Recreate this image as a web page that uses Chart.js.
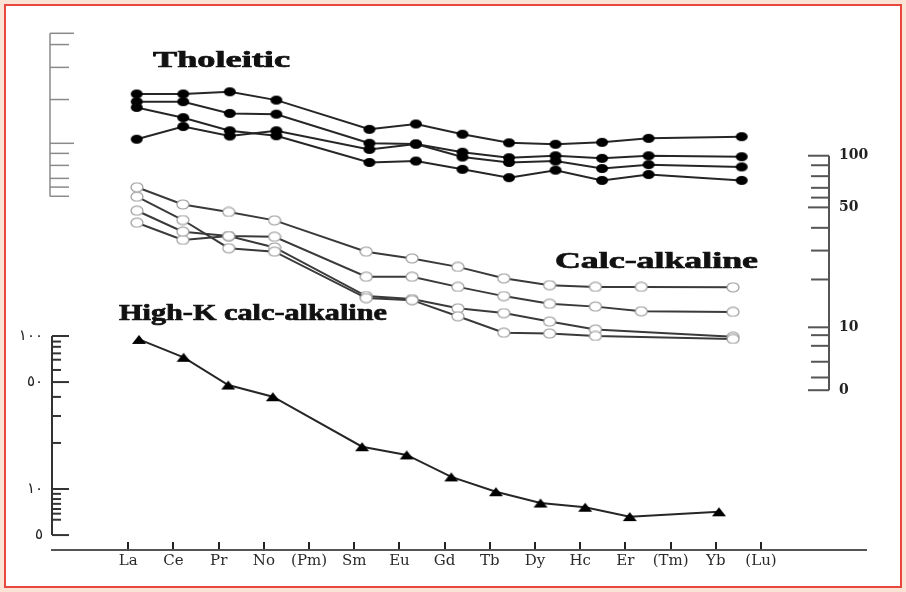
<!DOCTYPE html>
<html lang="es">
<head>
<meta charset="utf-8">
<title>Diagrama de tierras raras</title>
<script src="https://cdn.jsdelivr.net/npm/chart.js@4.4.1/dist/chart.umd.min.js"></script>
<style>
  html, body { margin: 0; padding: 0; }
  body { width: 906px; height: 592px; background: #fbe4d6; position: relative; overflow: hidden; }
  .marco { position: absolute; left: 4px; top: 4px; width: 898px; height: 584px; box-sizing: border-box; border: 2px solid #e8473f; background: #fff; }
  .grafico { position: absolute; left: 0; top: 0; width: 906px; height: 592px; }
</style>
</head>
<body>
<div class="marco"></div>
<div class="grafico"><canvas id="reeChart"></canvas></div>
<script>
const elementos = ['La', 'Ce', 'Pr', 'No', '(Pm)', 'Sm', 'Eu', 'Gd', 'Tb', 'Dy', 'Hc', 'Er', '(Tm)', 'Yb', '(Lu)'];

// Tholeitic - eje superior izquierdo
const thol1 = [28.1, 28.1, 29.4, 24.7, null, 13.4, 15.0, 12.1, 10.1, 9.8, 10.2, 11.1, null, 11.5, null];
const thol2 = [23.9, 23.9, 18.7, 18.4, null, 10.0, 9.85, 8.3, 7.4, 7.7, 7.3, 7.7, null, 7.55, null];
const thol3 = [21.2, 17.1, 13.0, 11.7, null, 6.7, 6.9, 5.8, 4.87, 5.7, 4.6, 5.2, null, 4.6, null];
const thol4 = [10.9, 14.2, 11.65, 13.0, null, 8.8, 9.85, 7.5, 6.7, 6.9, 5.9, 6.4, null, 6.1, null];

// Calc-alkaline - eje derecho
const calc1 = [65.5, 52, 47, 42, null, 27.6, 25.2, 22.5, 19.3, 17.6, 17.2, 17.2, null, 17.1, null];
const calc2 = [57.7, 42.2, 28.9, 27.6, null, 14.8, 14.4, 11.6, 9.3, 9.2, 8.9, null, null, 8.55, null];
const calc3 = [47.8, 36.1, 34, 33.7, null, 19.7, 19.7, 17.2, 15.2, 13.7, 13.2, 12.4, null, 12.3, null];
const calc4 = [40.7, 32.3, 34, 29.2, null, 15.2, 14.6, 12.9, 12.1, 10.8, 9.7, null, null, 8.8, null];

// High-K calc-alkaline - eje inferior izquierdo
const highK = [95, 72.6, 47.8, 40.1, null, 18.9, 16.7, 12.0, 9.6, 8.1, 7.6, 6.6, null, 7.1, null];

// marcas de los ejes logaritmicos
const ticksThol = [100, 79, 49, 25, 10, 8.1, 6.3, 4.8, 4.0, 3.3];
const ticksHighK = [100, 92, 85, 77, 70, 60, 50, 40, 30, 20, 10, 9.3, 8.6, 8, 7.4, 6.9, 6.3, 5];
const etiquetasHighK = ['١٠٠', '', '', '', '', '', '٥٠', '', '', '', '١٠', '', '', '', '', '', '', '٥'];
const ticksCalc = [100, 88, 76, 65, 57, 50, 38, 28, 19, 10, 9, 7.8, 6.3, 5.1, 4.3];
const etiquetasCalc = ['100', '', '', '', '', '50', '', '', '', '10', '', '', '', '', '0'];

const grupos = ['Tholeitic', 'Calc-alkaline', 'High-K calc-alkaline'];

function marca(ancho, alto, relleno, borde, triangulo) {
    const c = document.createElement('canvas');
    c.width = ancho + 2;
    c.height = alto + 2;
    const g = c.getContext('2d');
    g.beginPath();
    if (triangulo) {
        g.moveTo(c.width / 2, 1);
        g.lineTo(c.width - 1, c.height - 1);
        g.lineTo(1, c.height - 1);
        g.closePath();
    } else {
        g.ellipse(c.width / 2, c.height / 2, ancho / 2, alto / 2, 0, 0, Math.PI * 2);
    }
    g.fillStyle = relleno;
    g.fill();
    if (borde) {
        g.strokeStyle = borde;
        g.lineWidth = 1.2;
        g.stroke();
    }
    return c;
}

const puntoLleno = marca(12, 9, '#000');
const puntoVacio = marca(12, 9, '#fff', '#9a9a9a');
const puntoTriangulo = marca(14, 9, '#000', null, true);

function serie(valores, ejeX, ejeY, punto, color) {
    return {
        data: valores.map((v, i) => ({ x: i, y: v })).filter(p => p.y !== null),
        xAxisID: ejeX,
        yAxisID: ejeY,
        borderColor: color,
        borderWidth: 2,
        pointStyle: punto,
        pointRadius: 6,
        fill: false,
        tension: 0
    };
}

const ejesLog = {
    id: 'ejesLog',
    afterDatasetsDraw(chart) {
        const { ctx, scales } = chart;
        const ejes = [
            { escala: scales.yT, x: 50, valores: ticksThol, etiquetas: null, dir: 1, largo: [24, 19], color: '#8a8a8a', ancho: 1.5 },
            { escala: scales.yK, x: 52, valores: ticksHighK, etiquetas: etiquetasHighK, dir: 1, largo: [17, 9], color: '#333', ancho: 2,
              fuente: '15px "DejaVu Sans"', alinea: 'right', dx: -9 },
            { escala: scales.yC, x: 829, valores: ticksCalc, etiquetas: etiquetasCalc, dir: -1, largo: [21, 18], color: '#555', ancho: 2,
              fuente: 'bold 14px "DejaVu Serif"', alinea: 'left', dx: 10 }
        ];
        ctx.save();
        ejes.forEach(e => {
            const ys = e.valores.map(v => e.escala.getPixelForValue(v));
            ctx.strokeStyle = e.color;
            ctx.lineWidth = e.ancho;
            ctx.beginPath();
            ctx.moveTo(e.x, Math.min(...ys));
            ctx.lineTo(e.x, Math.max(...ys));
            ctx.stroke();
            e.valores.forEach((v, i) => {
                const mayor = (e.etiquetas && e.etiquetas[i] !== '') || Number.isInteger(Math.log10(v));
                const l = mayor ? e.largo[0] : e.largo[1];
                ctx.beginPath();
                ctx.moveTo(e.x, ys[i]);
                ctx.lineTo(e.x + e.dir * l, ys[i]);
                ctx.stroke();
                if (e.etiquetas && e.etiquetas[i]) {
                    ctx.fillStyle = '#222';
                    ctx.font = e.fuente;
                    ctx.textAlign = e.alinea;
                    ctx.textBaseline = 'middle';
                    ctx.fillText(e.etiquetas[i], e.x + e.dx, ys[i]);
                }
            });
        });
        ctx.restore();
    }
};

const titulosGrupos = {
    id: 'titulosGrupos',
    afterDraw(chart) {
        const ctx = chart.ctx;
        const sitios = [
            { x: 153, y: 67, w: 137 },
            { x: 555, y: 268, w: 203 },
            { x: 119, y: 320, w: 268 }
        ];
        ctx.save();
        ctx.fillStyle = '#111';
        ctx.strokeStyle = '#111';
        ctx.lineWidth = 0.7;
        ctx.font = 'bold 23px "Liberation Serif"';
        ctx.textBaseline = 'alphabetic';
        ctx.textAlign = 'left';
        grupos.forEach((t, i) => {
            const s = sitios[i];
            const escalaX = s.w / ctx.measureText(t).width;
            ctx.save();
            ctx.translate(s.x, s.y);
            ctx.scale(escalaX, 1);
            ctx.fillText(t, 0, 0);
            ctx.strokeText(t, 0, 0);
            ctx.restore();
        });
        ctx.restore();
    }
};

const ctx = document.getElementById('reeChart').getContext('2d');

new Chart(ctx, {
    type: 'line',
    data: {
        datasets: [
            serie(thol1, 'xT', 'yT', puntoLleno, '#262626'),
            serie(thol2, 'xT', 'yT', puntoLleno, '#262626'),
            serie(thol3, 'xT', 'yT', puntoLleno, '#262626'),
            serie(thol4, 'xT', 'yT', puntoLleno, '#262626'),
            serie(calc1, 'xC', 'yC', puntoVacio, '#3a3a3a'),
            serie(calc2, 'xC', 'yC', puntoVacio, '#3a3a3a'),
            serie(calc3, 'xC', 'yC', puntoVacio, '#3a3a3a'),
            serie(calc4, 'xC', 'yC', puntoVacio, '#3a3a3a'),
            serie(highK, 'xK', 'yK', puntoTriangulo, '#262626')
        ]
    },
    options: {
        responsive: true,
        maintainAspectRatio: false,
        animation: false,
        layout: { padding: { left: 52, right: 40, top: 20, bottom: 12 } },
        plugins: {
            legend: { display: false },
            tooltip: { enabled: false }
        },
        scales: {
            x: {
                type: 'linear',
                position: 'bottom',
                min: -1.6883,
                max: 16.323,
                afterBuildTicks: (scale) => {
                    scale.ticks = elementos.map((e, i) => ({ value: i }));
                },
                ticks: {
                    autoSkip: false,
                    maxRotation: 0,
                    padding: 10,
                    color: '#2a2a2a',
                    font: { family: 'DejaVu Serif', size: 15, lineHeight: 1.2 },
                    callback: (v) => elementos[v]
                },
                grid: { drawOnChartArea: false, drawTicks: true, tickLength: -8, color: '#222', lineWidth: 2 },
                border: { display: true, color: '#555', width: 2 }
            },
            xT: { type: 'linear', display: false, min: -1.820, max: 15.671 },
            xC: { type: 'linear', display: false, min: -1.854, max: 15.901 },
            xK: { type: 'linear', display: false, min: -1.950, max: 16.295 },
            yT: { type: 'logarithmic', display: false, min: 0.00201, max: 132.1 },
            yC: { type: 'logarithmic', display: false, min: 0.5038, max: 617.9 },
            yK: { type: 'logarithmic', display: false, min: 3.994, max: 11624 }
        }
    },
    plugins: [ejesLog, titulosGrupos]
});
</script>
</body>
</html>
